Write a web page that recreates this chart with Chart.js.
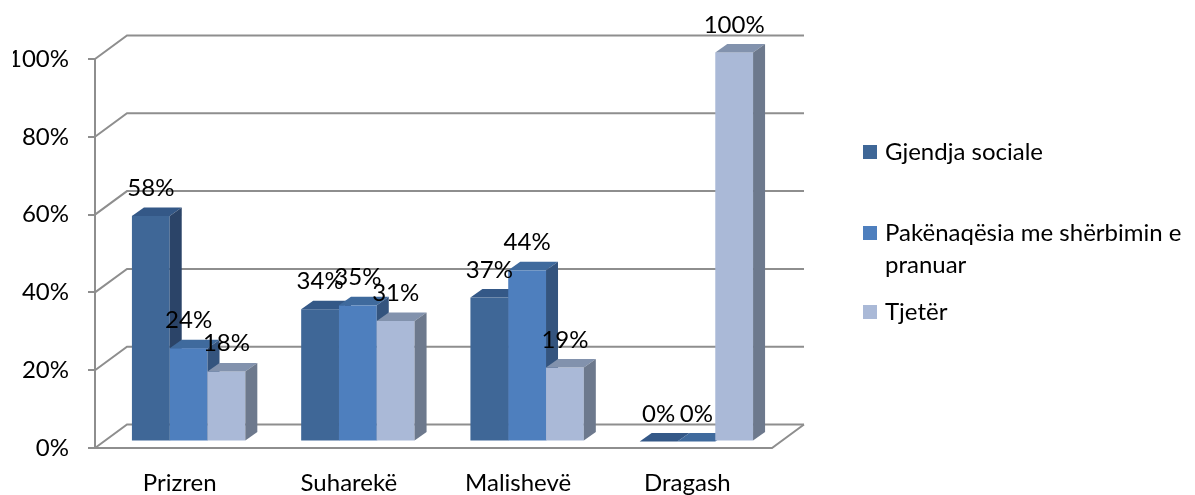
<!DOCTYPE html>
<html>
<head>
<meta charset="utf-8">
<script src="https://cdn.jsdelivr.net/npm/chart.js@4/dist/chart.umd.min.js"></script>
<style>
  html, body { margin: 0; padding: 0; background: #ffffff; }
  #wrap { width: 1195px; height: 495px; }
</style>
</head>
<body>
<div id="wrap"><canvas id="chart" width="1195" height="495"></canvas></div>
<script>
// Categories (municipalities)
const categories = ['Prizren', 'Suharekë', 'Malishevë', 'Dragash'];

// Series values, in percent
const gjendjaSociale = [58, 34, 37, 0];
const pakenaqesia = [24, 35, 44, 0];
const tjeter = [18, 31, 19, 100];

// Series names (legend lines)
const seriesNames = [
  ['Gjendja sociale'],
  ['Pakënaqësia me shërbimin e', 'pranuar'],
  ['Tjetër']
];

// Value axis ticks
const yTicks = [0, 20, 40, 60, 80, 100];

// Face colours for each series: front, top, side
const faceColors = [
  { front: '#3F6797', top: '#345887', side: '#2B4468' },
  { front: '#4E7FBE', top: '#3F6A9D', side: '#34547E' },
  { front: '#AAB9D7', top: '#8292AD', side: '#6D798D' }
];

const FONT = 'Lato, "Open Sans", sans-serif';
const FONT_SIZE = 24;
const FRAME = '#8E8E8E';
const WALL = { dx: 32, dy: -23.5 };   // depth of the back wall
const PLANE = { dx: 9, dy: -6.5 };    // where the bar fronts sit
const BAR = { dx: 12, dy: -8.5 };     // depth of each bar

const threeD = {
  id: 'threeD',
  beforeDatasetsDraw(chart) {
    const { ctx, chartArea: ca, scales } = chart;
    const y = scales.y;
    ctx.save();
    ctx.strokeStyle = FRAME;
    ctx.lineWidth = 2;
    // back wall gridlines and the slanted side lines
    yTicks.forEach(v => {
      const py = y.getPixelForValue(v);
      ctx.beginPath();
      ctx.moveTo(ca.left, py);
      ctx.lineTo(ca.left + WALL.dx, py + WALL.dy);
      ctx.lineTo(ca.right + WALL.dx, py + WALL.dy);
      ctx.stroke();
    });
    // floor front and right edges
    const py0 = y.getPixelForValue(0);
    ctx.beginPath();
    ctx.moveTo(ca.left - 2, py0);
    ctx.lineTo(ca.right, py0);
    ctx.lineTo(ca.right + WALL.dx, py0 + WALL.dy);
    ctx.stroke();
    ctx.restore();

    // bars, category by category so later bars cover earlier side faces
    ctx.save();
    ctx.translate(PLANE.dx, PLANE.dy);
    const metas = chart.data.datasets.map((d, i) => chart.getDatasetMeta(i));
    categories.forEach((c, i) => {
      metas.forEach((meta, d) => {
        const el = meta.data[i];
        if (!el) return;
        const col = faceColors[d];
        const xl = el.x - el.width / 2, xr = el.x + el.width / 2;
        const yt = el.y, yb = el.base;
        // front
        ctx.fillStyle = col.front;
        ctx.fillRect(xl, yt, xr - xl, yb - yt);
        // top
        ctx.fillStyle = col.top;
        ctx.beginPath();
        ctx.moveTo(xl, yt);
        ctx.lineTo(xl + BAR.dx, yt + BAR.dy);
        ctx.lineTo(xr + BAR.dx, yt + BAR.dy);
        ctx.lineTo(xr, yt);
        ctx.closePath();
        ctx.fill();
        // side
        ctx.fillStyle = col.side;
        ctx.beginPath();
        ctx.moveTo(xr, yt);
        ctx.lineTo(xr + BAR.dx, yt + BAR.dy);
        ctx.lineTo(xr + BAR.dx, yb + BAR.dy);
        ctx.lineTo(xr, yb);
        ctx.closePath();
        ctx.fill();
      });
    });
    ctx.restore();
  },
  beforeDatasetDraw() {
    return false;
  },
  afterDatasetsDraw(chart) {
    const { ctx } = chart;
    ctx.save();
    ctx.font = FONT_SIZE + 'px ' + FONT;
    ctx.fillStyle = '#000000';
    ctx.textAlign = 'center';
    ctx.textBaseline = 'alphabetic';
    chart.data.datasets.forEach((ds, d) => {
      const meta = chart.getDatasetMeta(d);
      meta.data.forEach((el, i) => {
        ctx.fillText(ds.data[i] + '%', el.x + PLANE.dx, el.y + PLANE.dy - 20);
      });
    });
    ctx.restore();
  },
  afterDraw(chart) {
    const { ctx } = chart;
    const rows = [152, 233, 312];
    ctx.save();
    ctx.font = FONT_SIZE + 'px ' + FONT;
    ctx.textAlign = 'left';
    ctx.textBaseline = 'middle';
    seriesNames.forEach((lines, d) => {
      const cy = rows[d];
      ctx.fillStyle = faceColors[d].front;
      ctx.fillRect(863, cy - 7, 14, 14);
      ctx.fillStyle = '#000000';
      lines.forEach((t, k) => ctx.fillText(t, 885, cy + k * 32));
    });
    ctx.restore();
  }
};

new Chart(document.getElementById('chart'), {
  type: 'bar',
  data: {
    labels: categories,
    datasets: [
      { label: seriesNames[0].join(' '), data: gjendjaSociale, backgroundColor: faceColors[0].front },
      { label: seriesNames[1].join(' '), data: pakenaqesia, backgroundColor: faceColors[1].front },
      { label: seriesNames[2].join(' '), data: tjeter, backgroundColor: faceColors[2].front }
    ]
  },
  options: {
    responsive: false,
    animation: false,
    layout: { padding: { top: 59, left: 13, right: 423, bottom: 0 } },
    datasets: { bar: { categoryPercentage: 0.67, barPercentage: 1 } },
    plugins: { legend: { display: false }, tooltip: { enabled: false } },
    scales: {
      x: {
        afterFit(scale) { scale.height = 47; },
        grid: { display: false, drawTicks: false },
        border: { display: false },
        ticks: { padding: 23, color: '#000000', font: { family: FONT, size: FONT_SIZE, lineHeight: 1 } }
      },
      y: {
        min: 0,
        max: 100,
        afterFit(scale) { scale.width = 82; },
        afterBuildTicks(scale) { scale.ticks = yTicks.map(v => ({ value: v })); },
        grid: { drawOnChartArea: false, drawTicks: true, tickLength: 7, color: FRAME, lineWidth: 2 },
        border: { display: true, color: FRAME, width: 2 },
        ticks: {
          padding: 19,
          color: '#000000',
          font: { family: FONT, size: FONT_SIZE },
          callback: v => v + '%'
        }
      }
    }
  },
  plugins: [threeD]
});
</script>
</body>
</html>
